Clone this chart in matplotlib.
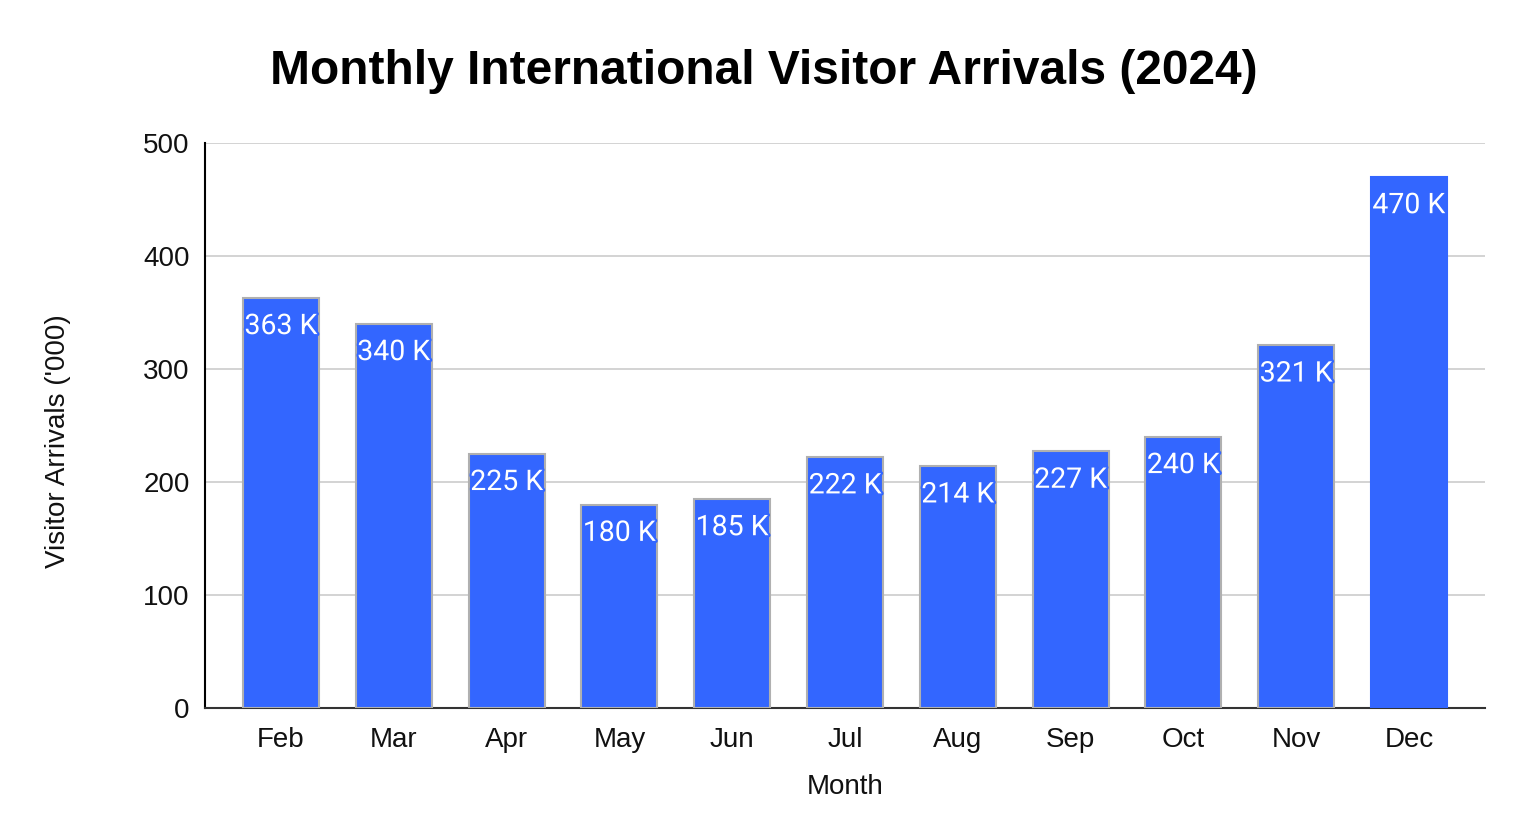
import matplotlib
matplotlib.use("Agg")
import matplotlib.pyplot as plt
import matplotlib.patheffects as pe

months = ["Feb", "Mar", "Apr", "May", "Jun", "Jul", "Aug", "Sep", "Oct", "Nov", "Dec"]
arrivals = [363, 340, 225, 180, 185, 222, 214, 227, 240, 321, 470]
yticks = [0, 100, 200, 300, 400, 500]

plt.rcParams['font.family'] = ['Liberation Sans', 'DejaVu Sans']

blue = "#3366ff"
w = 0.674

fig = plt.figure(figsize=(15.28, 8.24), dpi=100)
ax = fig.add_axes([205 / 1528, 1 - 708 / 824, 1280 / 1528, 565 / 824])

x = range(len(months))
edges = ["#b0b0b0"] * (len(months) - 1) + [blue]
bars = ax.bar(x, arrivals, width=w, color=blue, edgecolor=edges, linewidth=1.5, zorder=3)

for i, v in enumerate(arrivals):
    ax.annotate(f"{v} K", (i, v), xytext=(0, -11), textcoords="offset points",
                ha="center", va="top", color="white", fontsize=20.5,
                family=["Roboto", "DejaVu Sans"],
                path_effects=[pe.withStroke(linewidth=3, foreground=blue)], zorder=4)

ax.set_xlim(-w, len(months) - 1 + w)
ax.set_ylim(0, 500)
ax.set_yticks(yticks)
ax.set_xticks(list(x))
ax.set_xticklabels(months)
ax.tick_params(axis="both", length=0, labelsize=20, colors="#111111")
ax.tick_params(axis="x", pad=14)
ax.tick_params(axis="y", pad=11)
ax.grid(axis="y", color="#cccccc", linewidth=1.2, zorder=0)

for s in ["top", "right"]:
    ax.spines[s].set_visible(False)
ax.spines["left"].set_color("black")
ax.spines["left"].set_linewidth(1.5)
ax.spines["bottom"].set_color("#333333")
ax.spines["bottom"].set_linewidth(1.5)

fig.text(0.5, 1 - 71 / 824, "Monthly International Visitor Arrivals (2024)",
         ha="center", va="center", fontsize=34.5, fontweight="bold")
fig.text(58 / 1528, 1 - 441 / 824, "Visitor Arrivals ('000)", rotation=90,
         ha="center", va="center", fontsize=20, color="#111111")
fig.text(845 / 1528, 1 - 787 / 824, "Month", ha="center", va="center",
         fontsize=20, color="#111111")

fig.savefig("out.png", dpi=100)
